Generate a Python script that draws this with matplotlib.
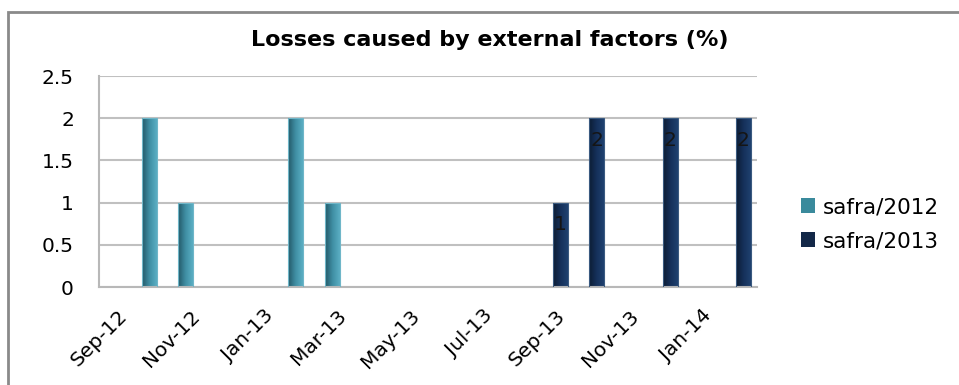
import numpy as np
import matplotlib
matplotlib.use("Agg")
import matplotlib.pyplot as plt
from matplotlib.patches import Patch, Rectangle
from matplotlib.colors import LinearSegmentedColormap

plt.rcParams['font.family'] = ['DejaVu Sans']

# Données
dates_2012 = ["2012-10", "2012-11", "2013-02", "2013-03"]
safra_2012 = [2, 1, 2, 1]
dates_2013 = ["2013-09", "2013-10", "2013-12", "2014-02"]
safra_2013 = [1, 2, 2, 2]
tick_labels = ["Sep-12", "Nov-12", "Jan-13", "Mar-13", "May-13",
               "Jul-13", "Sep-13", "Nov-13", "Jan-14"]


def month_index(d):
    # mois compté depuis sept. 2012
    y, m = d.split("-")
    return (int(y) - 2012) * 12 + int(m) - 9


fig = plt.figure(figsize=(9.59, 3.85), dpi=100)
ax = fig.add_axes([0.1032, 0.2545, 0.6862, 0.548])

# cadre gris du graphique
fig.patches.append(Rectangle((8 / 959, -0.1), 1.2, 1 - 12 / 385 + 0.1,
                             transform=fig.transFigure, fill=False,
                             edgecolor="#8a8a8a", linewidth=2))

width = 0.41
offset = 0.12
cmap_2012 = LinearSegmentedColormap.from_list("c12", ["#235868", "#3f8ea3", "#5aaec3"])
cmap_2013 = LinearSegmentedColormap.from_list("c13", ["#0c1c33", "#15305a", "#1f4170"])
grad = np.linspace(0, 1, 64).reshape(1, -1)


def gradient_bars(xs, vals, cmap, edge):
    bars = ax.bar(xs, vals, width=width, color="none", edgecolor=edge,
                  linewidth=0.8, zorder=3)
    for b in bars:
        x0, w, h = b.get_x(), b.get_width(), b.get_height()
        im = ax.imshow(grad, cmap=cmap, extent=(x0, x0 + w, 0, h),
                       aspect="auto", zorder=2.5, interpolation="bicubic")
        im.set_clip_path(b)
    return bars


x12 = np.array([month_index(d) for d in dates_2012]) - offset
x13 = np.array([month_index(d) for d in dates_2013]) + offset
gradient_bars(x12, safra_2012, cmap_2012, "#6fb6c8")
gradient_bars(x13, safra_2013, cmap_2013, "#3a5a80")

# étiquettes de valeurs (safra/2013)
for x, v in zip(x13, safra_2013):
    ax.text(x, v - 0.26, str(v), ha="center", va="center",
            fontsize=14.5, color="#151515", zorder=4)

ax.set_xlim(-0.5, 17.5)
ax.set_ylim(0, 2.5)
ax.set_yticks(np.arange(0, 2.51, 0.5))
ax.set_yticklabels(["0", "0.5", "1", "1.5", "2", "2.5"])
ax.set_xticks(np.arange(0, 17, 2))
ax.set_xticklabels(tick_labels, rotation=45, ha="right",
                   rotation_mode="anchor")

ax.grid(axis="y", color="#c0c0c0", linewidth=1.5, zorder=0)
ax.set_axisbelow(True)
for s in ["top", "right"]:
    ax.spines[s].set_visible(False)
for s in ["left", "bottom"]:
    ax.spines[s].set_color("#b8b8b8")
    ax.spines[s].set_linewidth(1.5)
ax.tick_params(axis="both", length=0, labelsize=14.5, colors="#000000")
ax.tick_params(axis="y", pad=18)
ax.tick_params(axis="x", pad=14)

fig.text(0.511, 0.896, "Losses caused by external factors (%)",
         ha="center", va="center", fontsize=16, fontweight="bold")

handles = [Patch(facecolor="#3a8a9c", edgecolor="none", label="safra/2012"),
           Patch(facecolor="#132848", edgecolor="none", label="safra/2013")]
fig.legend(handles=handles, loc="center left", bbox_to_anchor=(0.815, 0.418),
           frameon=False, fontsize=15.5, handlelength=0.65, handleheight=0.65,
           handletextpad=0.35, labelspacing=0.65)

fig.savefig("out.png", dpi=100)
